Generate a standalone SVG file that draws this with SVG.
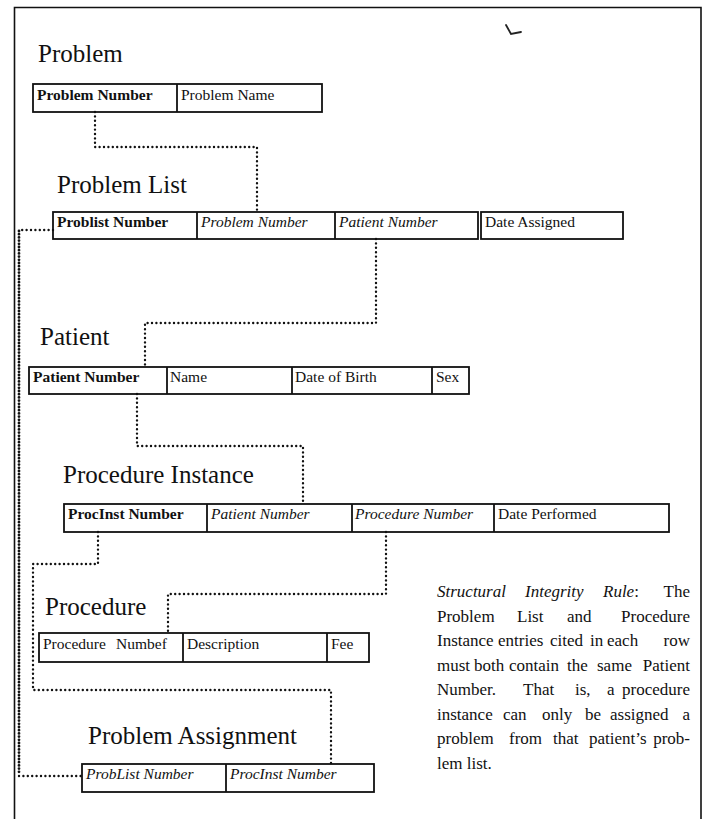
<svg xmlns="http://www.w3.org/2000/svg" width="705" height="819" viewBox="0 0 705 819">
  <style>
    .frame { fill: none; stroke: #111; stroke-width: 1.6; }
    .cell { fill: none; stroke: #111; stroke-width: 1.8; }
    .title { font-family: "Liberation Serif", "Times New Roman", serif; font-size: 25px; fill: #111; }
    .t { font-family: "Liberation Serif", "Times New Roman", serif; font-size: 15.5px; fill: #111; }
    .key { font-weight: bold; }
    .fk { font-style: italic; }
    .dot { fill: none; stroke: #111; stroke-width: 2.4; stroke-dasharray: 0 4.4; stroke-linecap: round; }
    .dense { fill: none; stroke: #111; stroke-width: 2.8; stroke-dasharray: 0 3.2; stroke-linecap: round; }
    .note { font-family: "Liberation Serif", "Times New Roman", serif; font-size: 17px; fill: #111; }
    .end { text-anchor: end; }
  </style>

  <rect width="705" height="819" fill="#fff"/>

  <!-- page frame (runs off the bottom edge) -->
  <path class="frame" d="M14.5,830 V7.5 H701 V830"/>
  <!-- small pen mark near the top -->
  <path d="M506,25 L511,34 L521,32" fill="none" stroke="#222" stroke-width="1.8" stroke-linecap="round"/>

  <!-- relationship lines -->
  <g id="connectors">
    <path class="dot" d="M95,112 V147 H257 V212"/>
    <path class="dot" d="M376,239 V323 H145 V367"/>
    <path class="dot" d="M137,394 V446 H303 V504"/>
    <path class="dot" d="M98,532 V564 H33 V690 H331 V764"/>
    <path class="dot" d="M386,532 V594 H168 V633"/>
    <path class="dot" d="M53,230 H19"/>
    <path class="dense" d="M19,231 V775"/>
    <path class="dot" d="M19,776 H82"/>
  </g>

  <g id="problem">
    <text class="title" x="38" y="62">Problem</text>
    <rect class="cell" x="33" y="84" width="289" height="28"/>
    <line class="cell" x1="177" y1="84" x2="177" y2="112"/>
    <text class="t key" x="37" y="100">Problem Number</text>
    <text class="t" x="181" y="100">Problem Name</text>
  </g>

  <g id="problem-list">
    <text class="title" x="57" y="193">Problem List</text>
    <rect class="cell" x="53" y="212" width="425" height="27"/>
    <line class="cell" x1="197" y1="212" x2="197" y2="239"/>
    <line class="cell" x1="335" y1="212" x2="335" y2="239"/>
    <rect class="cell" x="481" y="212" width="142" height="27"/>
    <text class="t key" x="57" y="227">Problist Number</text>
    <text class="t fk" x="201" y="227">Problem Number</text>
    <text class="t fk" x="339" y="227">Patient Number</text>
    <text class="t" x="485" y="227">Date Assigned</text>
  </g>

  <g id="patient">
    <text class="title" x="40" y="345">Patient</text>
    <rect class="cell" x="29" y="367" width="440" height="27"/>
    <line class="cell" x1="167" y1="367" x2="167" y2="394"/>
    <line class="cell" x1="292" y1="367" x2="292" y2="394"/>
    <line class="cell" x1="432" y1="367" x2="432" y2="394"/>
    <text class="t key" x="33" y="382">Patient Number</text>
    <text class="t" x="170" y="382">Name</text>
    <text class="t" x="295" y="382">Date of Birth</text>
    <text class="t" x="436" y="382">Sex</text>
  </g>

  <g id="procedure-instance">
    <text class="title" x="63" y="483">Procedure Instance</text>
    <rect class="cell" x="64" y="504" width="605" height="28"/>
    <line class="cell" x1="207" y1="504" x2="207" y2="532"/>
    <line class="cell" x1="352" y1="504" x2="352" y2="532"/>
    <line class="cell" x1="494" y1="504" x2="494" y2="532"/>
    <text class="t key" x="68" y="519">ProcInst Number</text>
    <text class="t fk" x="211" y="519">Patient Number</text>
    <text class="t fk" x="355" y="519">Procedure Number</text>
    <text class="t" x="498" y="519">Date Performed</text>
  </g>

  <g id="procedure">
    <text class="title" x="45" y="615">Procedure</text>
    <rect class="cell" x="39" y="633" width="330" height="29"/>
    <line class="cell" x1="183" y1="633" x2="183" y2="662"/>
    <line class="cell" x1="327" y1="633" x2="327" y2="662"/>
    <text class="t" x="43" y="649">Procedure <tspan x="116">Numbef</tspan></text>
    <text class="t" x="187" y="649">Description</text>
    <text class="t" x="331" y="649">Fee</text>
  </g>

  <g id="problem-assignment">
    <text class="title" x="88" y="744">Problem Assignment</text>
    <rect class="cell" x="82" y="764" width="292" height="28"/>
    <line class="cell" x1="226" y1="764" x2="226" y2="792"/>
    <text class="t fk" x="86" y="779">ProbList Number</text>
    <text class="t fk" x="230" y="779">ProcInst Number</text>
  </g>

  <!-- justified explanatory paragraph -->
  <g id="rule-note" class="note">
    <text y="597"><tspan x="437" font-style="italic">Structural</tspan><tspan x="525" font-style="italic">Integrity</tspan><tspan x="603" font-style="italic">Rule</tspan><tspan>:</tspan></text>
    <text class="end" x="690" y="597">The</text>

    <text y="621.5"><tspan x="437">Problem</tspan><tspan x="517">List</tspan><tspan x="567">and</tspan></text>
    <text class="end" x="690" y="621.5">Procedure</text>

    <text y="646"><tspan x="437">Instance</tspan><tspan x="498">entries</tspan><tspan x="550">cited</tspan><tspan x="590">in</tspan><tspan x="607">each</tspan></text>
    <text class="end" x="690" y="646">row</text>

    <text y="670.5"><tspan x="437">must</tspan><tspan x="474">both</tspan><tspan x="509">contain</tspan><tspan x="567">the</tspan><tspan x="597">same</tspan></text>
    <text class="end" x="690" y="670.5">Patient</text>

    <text y="695"><tspan x="437">Number.</tspan><tspan x="523">That</tspan><tspan x="575">is,</tspan><tspan x="607">a</tspan></text>
    <text class="end" x="690" y="695">procedure</text>

    <text y="719.5"><tspan x="437">instance</tspan><tspan x="503">can</tspan><tspan x="542">only</tspan><tspan x="585">be</tspan><tspan x="610">assigned</tspan></text>
    <text class="end" x="690" y="719.5">a</text>

    <text y="744"><tspan x="437">problem</tspan><tspan x="509">from</tspan><tspan x="553">that</tspan><tspan x="589">patient’s</tspan></text>
    <text class="end" x="690" y="744">prob-</text>

    <text x="437" y="768.5">lem list.</text>
  </g>
</svg>
